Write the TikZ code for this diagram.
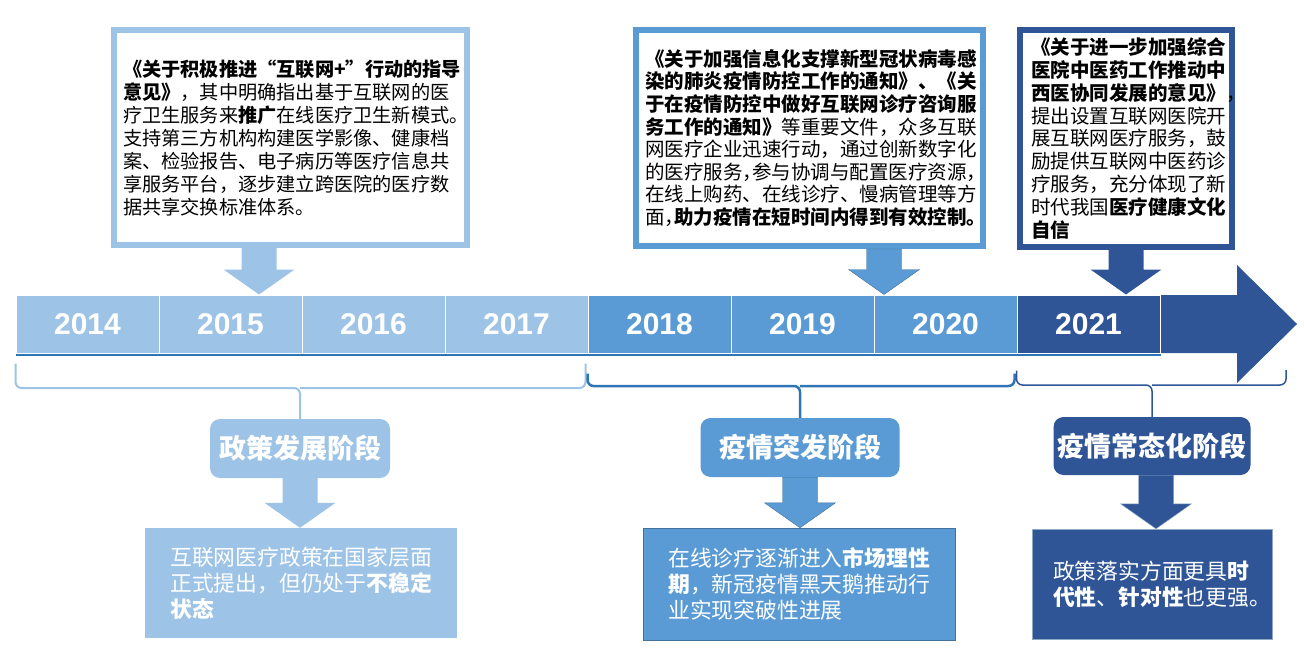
\documentclass[tikz,border=0pt]{standalone}
\usepackage{fontspec}
\setmainfont{Liberation Sans}
\newfontfamily\hei{Noto Sans CJK SC}
\usetikzlibrary{calc}
\definecolor{PhaseLight}{HTML}{9DC3E6}
\definecolor{PhaseMid}{HTML}{5B9BD5}
\definecolor{PhaseDark}{HTML}{2F5597}
\definecolor{PhaseLine}{HTML}{2E75B6}
\definecolor{PhaseEdge}{HTML}{41719C}

\newcommand{\halfpunct}[1]{\makebox[0.5em][l]{#1}}
% block arrow pointing down: style, x (px), from node, to node
\newcommand{\blockarrow}[4]{%
  \path[#1] let \p1=(#3), \p2=(#4) in
    (#2pt-17.5pt,\y1) -- (#2pt+17.5pt,\y1) -- (#2pt+17.5pt,\y2+25pt)
    -- (#2pt+35.5pt,\y2+25pt) -- (#2pt,\y2) -- (#2pt-35.5pt,\y2+25pt)
    -- (#2pt-17.5pt,\y2+25pt) -- cycle;}

\begin{document}
\begin{tikzpicture}[x=1pt,y=-1pt,
  yearcell/.style={minimum width=143pt,minimum height=58pt,inner sep=0pt,draw=white,line width=1pt,
    text=white,font=\fontsize{30}{30}\selectfont\bfseries},
  docbox/.style={fill=white,line width=6pt,inner sep=0pt,align=left},
  stagebox/.style={rounded corners=10pt,inner sep=0pt,text=white,font=\hei\bfseries\fontsize{27}{27}\selectfont},
  notebox/.style={inner sep=0pt,align=left,text=white,font=\hei\fontsize{21.8}{26}\selectfont},
  brace/.style={line width=2pt,rounded corners=6pt}]
  \useasboundingbox (0,0) rectangle (1304,666);

  % timeline
  \fill[PhaseDark] (1160,295) -- (1237,295) -- (1237,265) -- (1297,324) -- (1237,383)
    -- (1237,353) -- (1160,353) -- cycle;
  \foreach \yr/\col [count=\i from 0] in {2014/PhaseLight,2015/PhaseLight,2016/PhaseLight,
      2017/PhaseLight,2018/PhaseMid,2019/PhaseMid,2020/PhaseMid,2021/PhaseDark}
    \node[yearcell,fill=\col] (y\yr) at (87.5+143*\i,324) {\yr};
  \draw[PhaseLine,line width=1.2pt] ([yshift=-1.5pt]y2014.south west) -- ([yshift=-1.5pt]y2021.south east);

  % documents
  \node[docbox,draw=PhaseLight,minimum width=353pt,minimum height=215pt,text width=335pt,
    font=\hei\fontsize{19.2}{23}\selectfont] (doc1) at (290.5,137.5) {%
    {\bfseries 《关于积极推进“互联网+”行动的指导}\\
    {\bfseries 意见》}，其中明确指出基于互联网的医\\
    疗卫生服务来{\bfseries 推广}在线医疗卫生新模式。\\
    支持第三方机构构建医学影像、健康档\\
    案、检验报告、电子病历等医疗信息共\\
    享服务平台，逐步建立跨医院的医疗数\\
    据共享交换标准体系。};
  \node[docbox,draw=PhaseMid,minimum width=347pt,minimum height=216pt,text width=329pt,
    font=\hei\fontsize{19.5}{22.6}\selectfont] (doc2) at (809.5,138) {%
    {\bfseries 《关于加强信息化支撑新型冠状病毒感}\\
    {\bfseries 染的肺炎疫情防控工作的通知》、《关}\\
    {\bfseries 于在疫情防控中做好互联网诊疗咨询服}\\
    {\bfseries 务工作的通知》}等重要文件，众多互联\\
    网医疗企业迅速行动，通过创新数字化\\
    的医疗服务\halfpunct{，}参与协调与配置医疗资源，\\
    在线上购药、在线诊疗、慢病管理等方\\
    面\halfpunct{，}{\bfseries 助力疫情在短时间内得到有效控制。}};
  \node[docbox,draw=PhaseDark,minimum width=212pt,minimum height=217pt,text width=190pt,
    font=\hei\fontsize{19.5}{22.9}\selectfont] (doc3) at (1126,138.5) {%
    {\bfseries 《关于进一步加强综合}\\
    {\bfseries 医院中医药工作推动中}\\
    {\bfseries 西医协同发展的意见》}，\\
    提出设置互联网医院开\\
    展互联网医疗服务，鼓\\
    励提供互联网中医药诊\\
    疗服务，充分体现了新\\
    时代我国{\bfseries 医疗健康文化}\\
    {\bfseries 自信}};
  \blockarrow{fill=PhaseLight}{259}{doc1.south}{y2015.north}
  \blockarrow{fill=PhaseMid,draw=PhaseEdge}{884}{doc2.south}{y2020.north}
  \blockarrow{fill=PhaseDark}{1126}{doc3.south}{y2021.north}

  % stages
  \node[stagebox,fill=PhaseLight,minimum width=180pt,minimum height=59pt] (stage1) at (300,448.5) {政策发展阶段};
  \node[stagebox,fill=PhaseMid,minimum width=199pt,minimum height=59pt] (stage2) at (800,447.5) {疫情突发阶段};
  \node[stagebox,fill=PhaseDark,minimum width=197pt,minimum height=58pt] (stage3) at (1152,446) {疫情常态化阶段};

  \draw[brace,PhaseLight] ([yshift=-10pt]y2014.south west) |- (300,388) -- (stage1.north);
  \draw[brace,PhaseLight] ([xshift=-3pt,yshift=-10pt]y2017.south east) |- (300,388);
  \draw[brace,PhaseLine,line width=2.5pt] ([yshift=-20pt]y2018.south west) |- (800,386) -- (stage2.north);
  \draw[brace,PhaseLine,line width=2.5pt] ([xshift=-3pt,yshift=-20pt]y2020.south east) |- (800,386);
  \coordinate (braceend) at (1286,370);
  \draw[brace,PhaseDark,line width=1.5pt] ([yshift=-17pt]y2021.south west) |- (1152,385) -- (stage3.north);
  \draw[brace,PhaseDark,line width=1.5pt] (braceend) |- (1152,385);

  % notes
  \node[notebox,fill=PhaseLight,minimum width=312pt,minimum height=110pt] (note1) at (301,583) {%
    互联网医疗政策在国家层面\\
    正式提出，但仍处于{\bfseries 不稳定}\\
    {\bfseries 状态}};
  \node[notebox,fill=PhaseMid,draw=PhaseEdge,minimum width=312pt,minimum height=112pt] (note2) at (799,584) {%
    在线诊疗逐渐进入{\bfseries 市场理性}\\
    {\bfseries 期}，新冠疫情黑天鹅推动行\\
    业实现突破性进展};
  \node[notebox,fill=PhaseDark,draw=PhaseEdge!60,minimum width=240pt,minimum height=110pt,
    text width=198pt] (note3) at (1152,584) {%
    政策落实方面更具{\bfseries 时}\\
    {\bfseries 代性}、{\bfseries 针对性}也更强。};
  \blockarrow{fill=PhaseLight}{300}{stage1.south}{note1.north}
  \blockarrow{fill=PhaseMid,draw=PhaseEdge}{800}{stage2.south}{note2.north}
  \blockarrow{fill=PhaseDark,draw=PhaseEdge!60}{1156}{stage3.south}{note3.north}
\end{tikzpicture}
\end{document}
